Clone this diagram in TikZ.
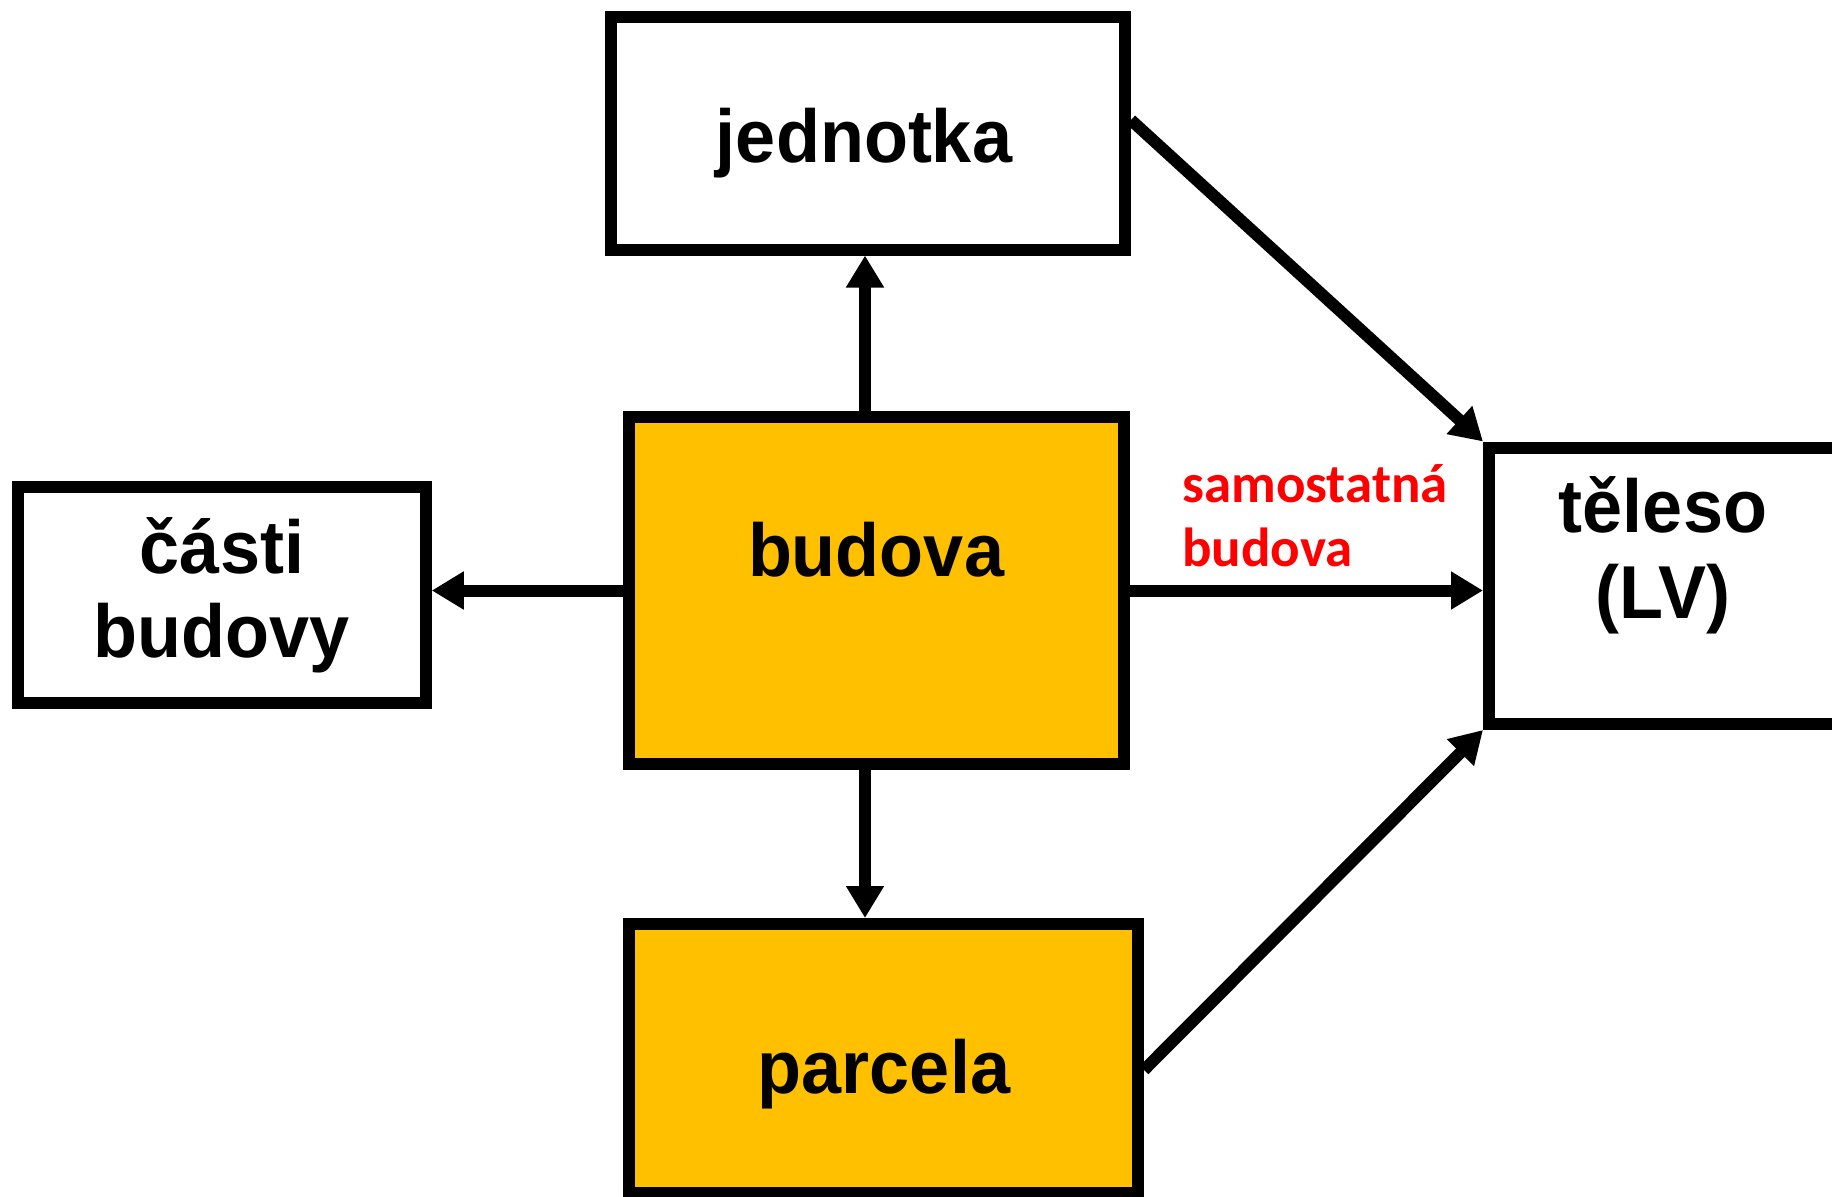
\documentclass[tikz,border=0pt]{standalone}
\usepackage{fontspec}
\setmainfont{Liberation Sans}
\newfontfamily\boxfont{Liberation Sans}[FakeStretch=0.96]
\newfontfamily\notefont{Carlito}
\usetikzlibrary{arrows.meta}
\definecolor{boxorange}{RGB}{255,192,0}
\definecolor{notered}{RGB}{255,0,0}
\begin{document}
\begin{tikzpicture}[x=1pt,y=-1pt,
  box/.style={draw=black,line width=12pt,rectangle,inner sep=0pt},
  whitebox/.style={box,fill=white},
  orangebox/.style={box,fill=boxorange},
  lbl/.style={anchor=base,inner sep=0pt,font=\boxfont\bfseries\fontsize{75}{88}\selectfont},
  note/.style={anchor=base west,inner sep=0pt,text=notered,font=\notefont\bfseries\fontsize{55}{64}\selectfont},
  arr/.style={line width=12pt,-{Triangle[length=32pt,width=36pt]}},
  con/.style={line width=12pt}
]
\useasboundingbox (0,0) rectangle (1832,1197);
% boxes
\node[whitebox,minimum width=514pt,minimum height=233pt] (J) at (868,133) {};
\node[orangebox,minimum width=495pt,minimum height=347pt] (B) at (876.5,590.5) {};
\node[whitebox,minimum width=407.5pt,minimum height=216pt] (C) at (222,595) {};
\node[orangebox,minimum width=509pt,minimum height=269pt] (P) at (883.5,1058.5) {};
\node[whitebox,minimum width=361pt,minimum height=276.5pt] (T) at (1669.5,585.75) {};
% texts
\node[lbl] (tJ) at (864,162) {jednotka};
\node[lbl] (tB) at (876,576) {budova};
\node[lbl] (tC1) at (222,573) {části};
\node[lbl] (tC2) at (222,657) {budovy};
\node[lbl] (tP) at (884,1093) {parcela};
\node[lbl] (tT1) at (1663,532) {těleso};
\node[lbl] (tT2) at (1663,618) {(LV)};
\node[note] (n1) at (1182,502) {samostatná};
\node[note] (n2) at (1182,566) {budova};
% connectors
\coordinate (ax) at (865,0);
\draw[arr] (B.north -| ax) -- (J.south -| ax);
\draw[arr] (B.south -| ax) -- (P.north -| ax);
\draw[arr] (B.west) -- (C.east |- B.west);
\draw[arr] (B.east) -- (T.west |- B.east);
\draw[arr] ([yshift=13pt]J.east) -- (T.north west);
\draw[arr] ([yshift=-11.5pt]P.east) -- (T.south west);
\end{tikzpicture}
\end{document}
